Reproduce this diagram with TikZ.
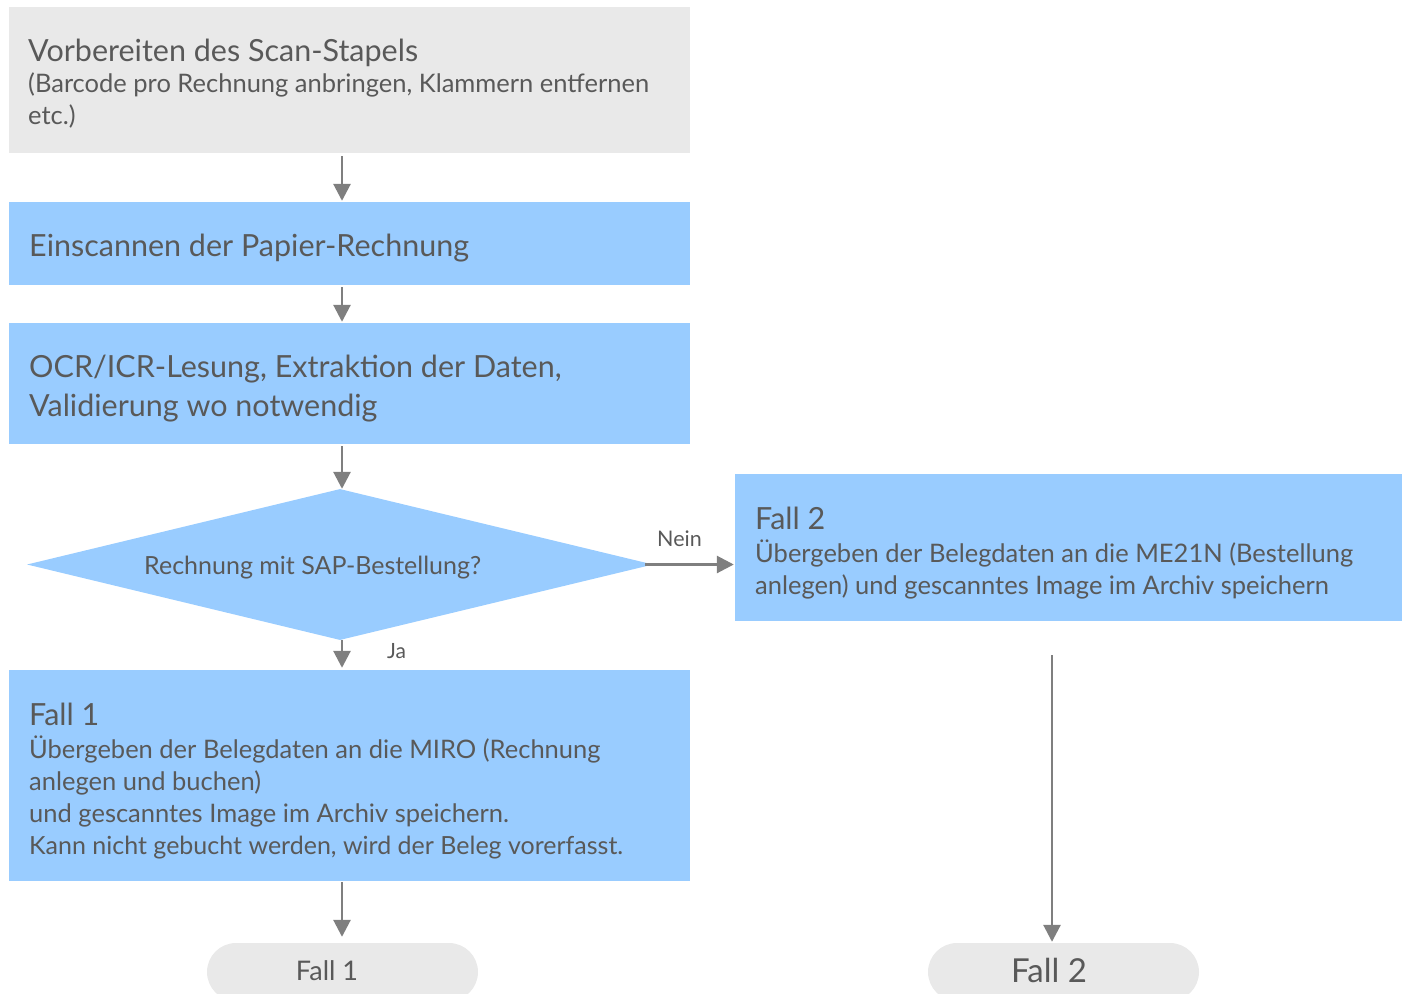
\documentclass[tikz,border=0pt]{standalone}
\usepackage{fontspec}
\setmainfont{Lato}
\usetikzlibrary{arrows.meta,shapes.geometric}
\definecolor{boxgray}{HTML}{E9E9E9}
\definecolor{boxblue}{HTML}{99CCFF}
\definecolor{txt}{HTML}{595959}
\definecolor{arr}{HTML}{7F7F7F}
\tikzset{
  box/.style={rectangle, inner sep=0pt, draw=none},
  graybox/.style={box, fill=boxgray},
  bluebox/.style={box, fill=boxblue},
  lbl/.style={anchor=base west, inner sep=0pt, text=txt},
  big/.style={font=\fontsize{30.5}{36}\selectfont},
  small/.style={font=\fontsize{25.5}{30}\selectfont},
  conn/.style={draw=arr, line width=2.8pt, -{Triangle[length=17pt,width=17pt]}},
  pill/.style={rectangle, rounded corners=29pt, fill=boxgray, inner sep=0pt, minimum width=271pt, minimum height=58pt},
}
\begin{document}
\begin{tikzpicture}[x=1pt,y=-1pt]
\useasboundingbox (0,0) rectangle (1402,993);
\clip (0,0) rectangle (1402,993);
\coordinate (ax) at (342,0);
\coordinate (ax2) at (1052,0);
% boxes
\node[graybox, minimum width=681pt, minimum height=146pt] (b1) at (349.5,80) {};
\node[bluebox, minimum width=681pt, minimum height=83pt] (b2) at (349.5,243.5) {};
\node[bluebox, minimum width=681pt, minimum height=121pt] (b3) at (349.5,383.5) {};
\node[diamond, fill=boxblue, inner sep=0pt, aspect=4.15, minimum width=626pt, minimum height=151pt] (d) at (340,564.5) {};
\node[bluebox, minimum width=667pt, minimum height=147pt] (f2) at (1068.5,547.5) {};
\node[bluebox, minimum width=681pt, minimum height=211pt] (f1) at (349.5,775.5) {};
\node[pill] (p1) at (342.5,972) {};
\node[pill] (p2) at (1063.5,972) {};
% texts
\node[lbl, big] (t1) at (28,61) {Vorbereiten des Scan-Stapels};
\node[lbl, small] (t1a) at (28,92) {(Barcode pro Rechnung anbringen, Klammern entfernen};
\node[lbl, small] (t1b) at (28,124) {etc.)};
\node[lbl, big] (t2) at (29,256) {Einscannen der Papier-Rechnung};
\node[lbl, big] (t3a) at (29,377) {OCR/ICR-Lesung, Extraktion der Daten,};
\node[lbl, big] (t3b) at (29,416) {Validierung wo notwendig};
\node[lbl, font=\fontsize{25}{30}\selectfont] (td) at (144,574) {Rechnung mit SAP-Bestellung?};
\node[lbl, font=\fontsize{21.5}{24}\selectfont] (nein) at (657,546) {Nein};
\node[lbl, font=\fontsize{21}{24}\selectfont] (ja) at (387,658) {Ja};
\node[lbl, big] (f2t) at (755,529) {Fall 2};
\node[lbl, small] (f2a) at (755,562) {Übergeben der Belegdaten an die ME21N (Bestellung};
\node[lbl, small] (f2b) at (755,594) {anlegen) und gescanntes Image im Archiv speichern};
\node[lbl, big] (f1t) at (29,725) {Fall 1};
\node[lbl, small] (f1a) at (29,758) {Übergeben der Belegdaten an die MIRO (Rechnung};
\node[lbl, small] (f1b) at (29,790) {anlegen und buchen)};
\node[lbl, small] (f1c) at (29,822) {und gescanntes Image im Archiv speichern.};
\node[lbl, font=\fontsize{25}{30}\selectfont] (f1d) at (29,854) {Kann nicht gebucht werden, wird der Beleg vorerfasst.};
\node[text=txt, inner sep=0pt, font=\fontsize{27}{30}\selectfont] (p1t) at (327,971) {Fall 1};
\node[text=txt, inner sep=0pt, font=\fontsize{33}{36}\selectfont] (p2t) at (1049,970) {Fall 2};
% connectors
\draw[conn, shorten <=3pt, shorten >=1pt] (b1.south -| ax) -- (b2.north -| ax);
\draw[conn, shorten <=2pt, shorten >=1pt] (b2.south -| ax) -- (b3.north -| ax);
\draw[conn, shorten <=2pt, shorten >=0pt] (b3.south -| ax) -- (d.north -| ax);
\draw[conn, shorten <=0pt, shorten >=2pt] (d.south -| ax) -- (f1.north -| ax);
\draw[conn, shorten <=1pt, shorten >=6pt] (f1.south -| ax) -- (p1.north -| ax);
\draw[conn, shorten <=-8pt, shorten >=1pt] (d.east) -- (d.east -| f2.west);
\draw[conn, shorten <=34pt, shorten >=1pt] (f2.south -| ax2) -- (p2.north -| ax2);
\end{tikzpicture}
\end{document}
